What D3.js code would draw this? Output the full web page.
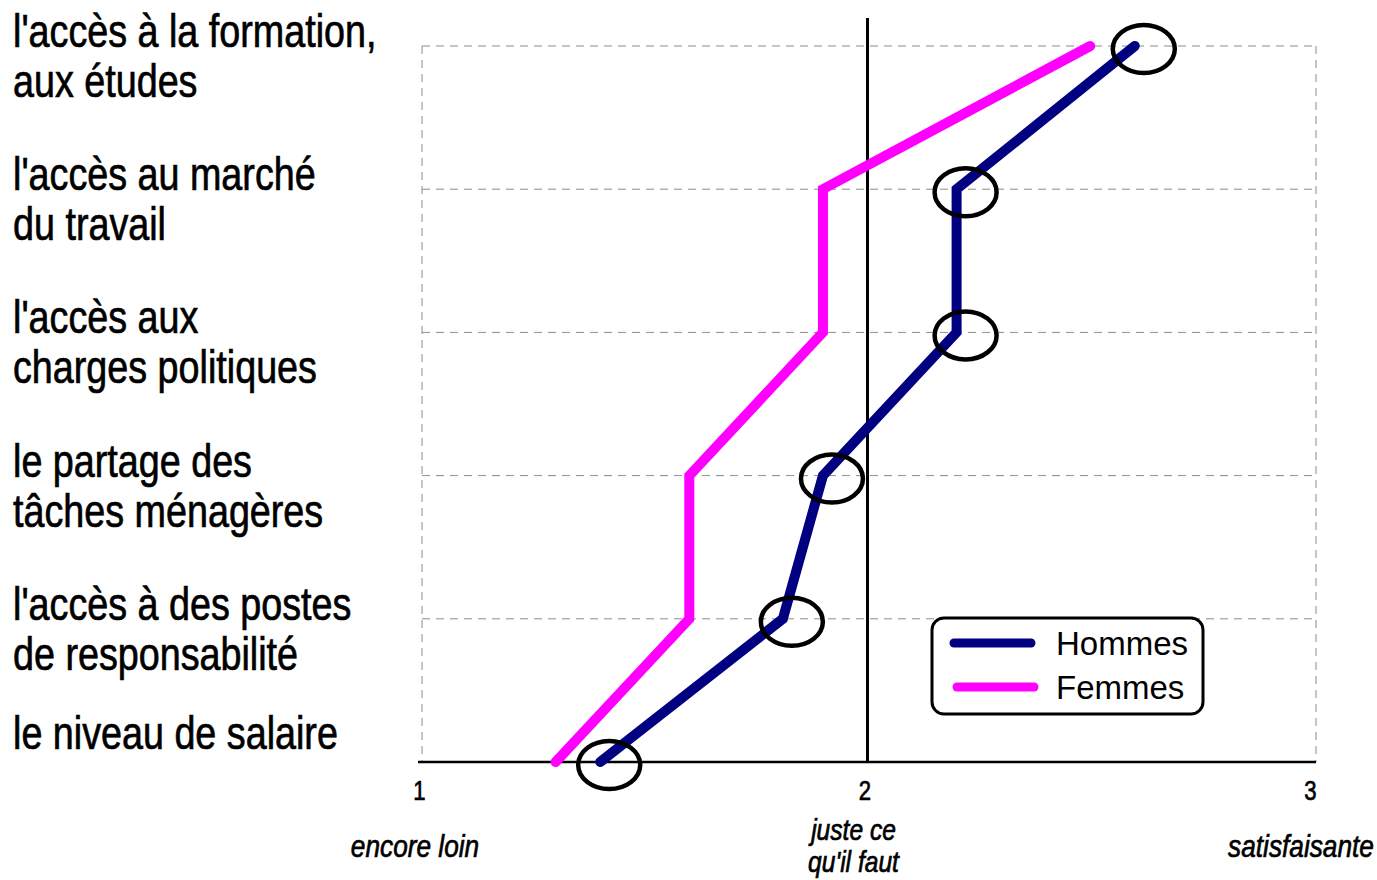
<!DOCTYPE html>
<html><head><meta charset="utf-8">
<script src="https://cdn.jsdelivr.net/npm/d3@7"></script>
<style>
body{margin:0;background:#fff;}
text{font-family:"Liberation Sans",Arial,sans-serif;fill:#000;}
</style></head>
<body><svg id="c" width="1377" height="880"></svg>
<script>
const categories = [
  ["l'accès à la formation,", "aux études"],
  ["l'accès au marché", "du travail"],
  ["l'accès aux", "charges politiques"],
  ["le partage des", "tâches ménagères"],
  ["l'accès à des postes", "de responsabilité"],
  ["le niveau de salaire"]
];
const catKeys = categories.map(d => d.join(" "));
const hommes = [2.60, 2.20, 2.20, 1.90, 1.81, 1.40];
const femmes = [2.50, 1.90, 1.90, 1.60, 1.60, 1.30];
const xTicks = [1, 2, 3];
const scaleLabels = [
  {v: 1, lines: ["encore loin"]},
  {v: 2, lines: ["juste ce", "qu'il faut"]},
  {v: 3, lines: ["satisfaisante"]}
];
const seriesNames = ["Hommes", "Femmes"];
const seriesColors = ["#000080", "#FF00FF"];

const NARROW = 0.82;
const svg = d3.select("#c");
const x = d3.scaleLinear().domain([1, 3]).range([422, 1313]);
const y = d3.scalePoint().domain(catKeys).range([46, 762]);
const x0 = 422, x1 = 1316, yTop = 46, yBot = 762;

function narrowText(parent, tx, lines, baseY, lh, size, anchor, italic) {
  const g = parent.append("g").attr("transform", `translate(${tx},0) scale(${NARROW},1)`);
  const t = g.append("text").attr("font-size", size).attr("text-anchor", anchor)
    .attr("font-style", italic ? "italic" : null)
    .attr("stroke", "#000").attr("stroke-width", 0.7);
  lines.forEach((l, i) => t.append("tspan").attr("x", 0).attr("y", baseY + i * lh).text(l));
  return t;
}

// gridlines
const grid = svg.append("g").attr("stroke", "#8c8c8c").attr("stroke-width", 1).attr("stroke-dasharray", "8,6");
catKeys.slice(0, -1).forEach(k => {
  grid.append("line").attr("x1", x0).attr("x2", x1).attr("y1", y(k)).attr("y2", y(k));
});
[x0, x1].forEach(xx => grid.append("line").attr("x1", xx).attr("x2", xx).attr("y1", yTop).attr("y2", yBot));

// x axis (domain line + ticks from d3 axis; labels drawn narrow)
const ax = svg.append("g").attr("transform", `translate(0,${yBot})`)
  .call(d3.axisBottom(x).tickValues(xTicks).tickSize(0).tickFormat(d3.format("d")));
ax.select(".domain").attr("stroke", "#000").attr("stroke-width", 2.5).attr("d", `M${x0 - 4},0H${x1}`);
ax.selectAll(".tick text").remove();
ax.selectAll(".tick").each(function(d) {
  narrowText(d3.select(this), -3, [String(d)], 38, 0, 27, "middle", false);
});

// vertical reference line at 2
svg.append("line").attr("x1", x(2)).attr("x2", x(2)).attr("y1", 18).attr("y2", yBot)
  .attr("stroke", "#000").attr("stroke-width", 3);

// scale descriptions
scaleLabels.forEach(s => {
  const cx = s.v === 1 ? x(1) - 7 : s.v === 2 ? x(2) - 14 : x(3) - 12;
  const baseY = s.lines.length > 1 ? 840 : 857;
  narrowText(svg, cx, s.lines, baseY, 32, s.lines.length > 1 ? 30 : 32, "middle", true);
});

// category labels
categories.forEach((lines, i) => {
  const yy = y(catKeys[i]);
  const base = lines.length > 1 ? yy + 1 : yy - 13;
  narrowText(svg, 13, lines, base, 50, 46, "start", false);
});

// lines
const line = d3.line().x(d => x(d.v)).y(d => y(d.k));
[hommes, femmes].forEach((vals, si) => {
  const pts = vals.map((v, i) => ({v, k: catKeys[i]}));
  svg.append("path").datum(pts).attr("d", line).attr("fill", "none")
    .attr("stroke", seriesColors[si]).attr("stroke-width", 10)
    .attr("stroke-linecap", "round").attr("stroke-linejoin", "miter");
});

// circles around Hommes points
svg.append("g").selectAll("ellipse").data(hommes).join("ellipse")
  .attr("cx", (d) => x(d) + 9).attr("cy", (d, i) => y(catKeys[i]) + 3)
  .attr("rx", 31).attr("ry", 24).attr("fill", "none").attr("stroke", "#000").attr("stroke-width", 4.5);

// legend
const lg = svg.append("g").attr("transform", "translate(932,618)");
lg.append("rect").attr("width", 271).attr("height", 96).attr("rx", 12).attr("fill", "#fff")
  .attr("stroke", "#000").attr("stroke-width", 3);
seriesNames.forEach((n, i) => {
  const yy = 25 + i * 44;
  lg.append("line").attr("x1", 22 + i * 3).attr("x2", 99 + i * 3).attr("y1", yy).attr("y2", yy)
    .attr("stroke", seriesColors[i]).attr("stroke-width", 9).attr("stroke-linecap", "round");
  lg.append("text").attr("x", 124).attr("y", yy + 12).attr("font-size", 33).text(n);
});
</script></body></html>
